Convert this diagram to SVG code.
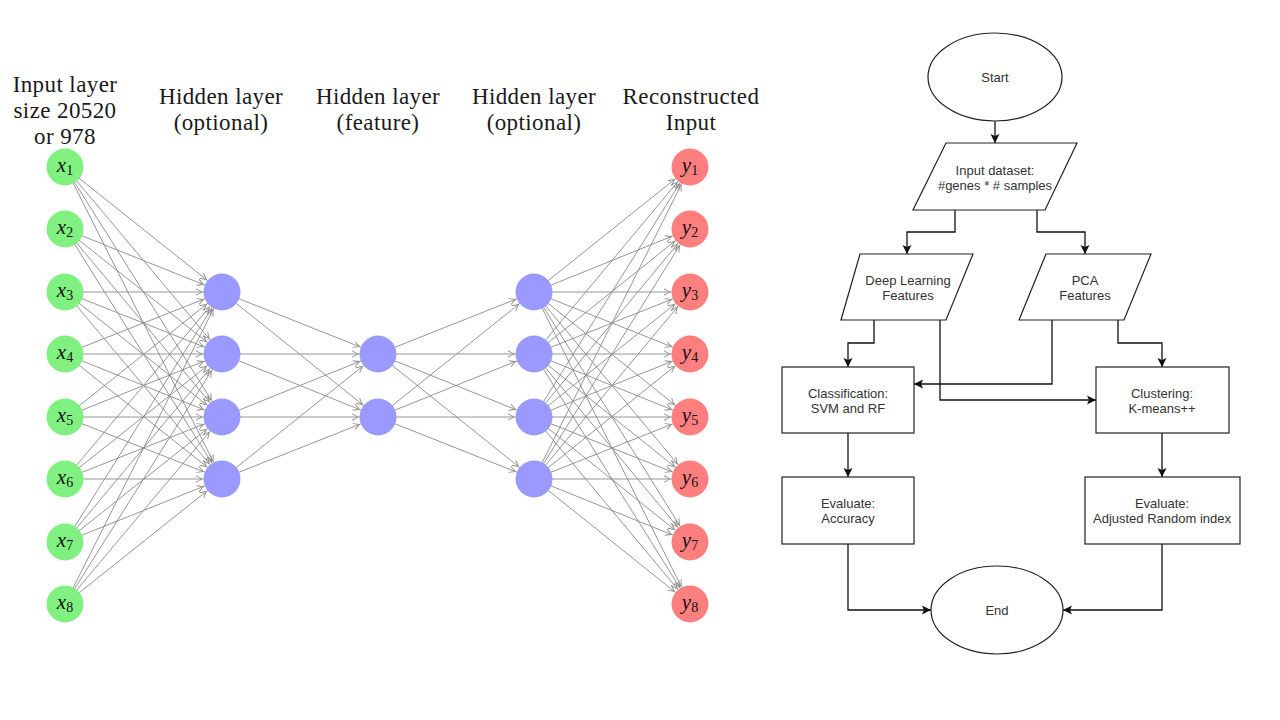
<svg xmlns="http://www.w3.org/2000/svg" width="1280" height="720" viewBox="0 0 1280 720">
<style>
.hd{font-family:"Liberation Serif","DejaVu Serif",serif;font-size:23px;letter-spacing:0.4px;fill:#1a1a1a;text-anchor:middle}
.nl{font-family:"Liberation Serif","DejaVu Serif",serif;font-style:italic;font-size:21px;fill:#111;text-anchor:middle}
.sb{font-size:14px;font-style:normal}
.e{stroke:#8a8a8a;stroke-width:0.9;fill:none;marker-end:url(#oa)}
.in{fill:#80f080}
.hid{fill:#9999ff}
.out{fill:#ff7f7f}
.fs{fill:#fff;stroke:#222;stroke-width:1.2}
.ft{font-family:"Liberation Sans",Arial,sans-serif;font-size:13px;fill:#333;text-anchor:middle}
.fc{stroke:#111;stroke-width:1.3;fill:none;marker-end:url(#fa)}
</style>
<defs>
<marker id="oa" markerUnits="userSpaceOnUse" markerWidth="10" markerHeight="10" refX="20" refY="0" orient="auto" overflow="visible">
<path d="M-6,-3.2 Q-2,-1 0,0 Q-2,1 -6,3.2" fill="none" stroke="#8a8a8a" stroke-width="0.9"/>
</marker>
<marker id="fa" markerUnits="userSpaceOnUse" markerWidth="12" markerHeight="12" refX="0" refY="0" orient="auto" overflow="visible">
<path d="M0,0 L-9,-4.5 L-7,0 L-9,4.5 Z" fill="#111"/>
</marker>
</defs>
<rect width="1280" height="720" fill="#fff"/>

<g id="headers">
<text class="hd" x="65" y="92">Input layer</text>
<text class="hd" x="65" y="118">size 20520</text>
<text class="hd" x="65" y="144">or 978</text>
<text class="hd" x="221" y="104">Hidden layer</text>
<text class="hd" x="221" y="130">(optional)</text>
<text class="hd" x="378" y="104">Hidden layer</text>
<text class="hd" x="378" y="130">(feature)</text>
<text class="hd" x="534" y="104">Hidden layer</text>
<text class="hd" x="534" y="130">(optional)</text>
<text class="hd" x="691" y="104">Reconstructed</text>
<text class="hd" x="691" y="130">Input</text>
</g>

<g id="nn-connectors">
<line class="e" x1="65" y1="167" x2="222" y2="292"/><line class="e" x1="65" y1="167" x2="222" y2="354"/><line class="e" x1="65" y1="167" x2="222" y2="417"/><line class="e" x1="65" y1="167" x2="222" y2="479"/>
<line class="e" x1="65" y1="229" x2="222" y2="292"/><line class="e" x1="65" y1="229" x2="222" y2="354"/><line class="e" x1="65" y1="229" x2="222" y2="417"/><line class="e" x1="65" y1="229" x2="222" y2="479"/>
<line class="e" x1="65" y1="292" x2="222" y2="292"/><line class="e" x1="65" y1="292" x2="222" y2="354"/><line class="e" x1="65" y1="292" x2="222" y2="417"/><line class="e" x1="65" y1="292" x2="222" y2="479"/>
<line class="e" x1="65" y1="354" x2="222" y2="292"/><line class="e" x1="65" y1="354" x2="222" y2="354"/><line class="e" x1="65" y1="354" x2="222" y2="417"/><line class="e" x1="65" y1="354" x2="222" y2="479"/>
<line class="e" x1="65" y1="417" x2="222" y2="292"/><line class="e" x1="65" y1="417" x2="222" y2="354"/><line class="e" x1="65" y1="417" x2="222" y2="417"/><line class="e" x1="65" y1="417" x2="222" y2="479"/>
<line class="e" x1="65" y1="479" x2="222" y2="292"/><line class="e" x1="65" y1="479" x2="222" y2="354"/><line class="e" x1="65" y1="479" x2="222" y2="417"/><line class="e" x1="65" y1="479" x2="222" y2="479"/>
<line class="e" x1="65" y1="542" x2="222" y2="292"/><line class="e" x1="65" y1="542" x2="222" y2="354"/><line class="e" x1="65" y1="542" x2="222" y2="417"/><line class="e" x1="65" y1="542" x2="222" y2="479"/>
<line class="e" x1="65" y1="604" x2="222" y2="292"/><line class="e" x1="65" y1="604" x2="222" y2="354"/><line class="e" x1="65" y1="604" x2="222" y2="417"/><line class="e" x1="65" y1="604" x2="222" y2="479"/>

<line class="e" x1="222" y1="292" x2="378" y2="354"/><line class="e" x1="222" y1="292" x2="378" y2="417"/>
<line class="e" x1="222" y1="354" x2="378" y2="354"/><line class="e" x1="222" y1="354" x2="378" y2="417"/>
<line class="e" x1="222" y1="417" x2="378" y2="354"/><line class="e" x1="222" y1="417" x2="378" y2="417"/>
<line class="e" x1="222" y1="479" x2="378" y2="354"/><line class="e" x1="222" y1="479" x2="378" y2="417"/>

<line class="e" x1="378" y1="354" x2="534" y2="292"/><line class="e" x1="378" y1="354" x2="534" y2="354"/><line class="e" x1="378" y1="354" x2="534" y2="417"/><line class="e" x1="378" y1="354" x2="534" y2="479"/>
<line class="e" x1="378" y1="417" x2="534" y2="292"/><line class="e" x1="378" y1="417" x2="534" y2="354"/><line class="e" x1="378" y1="417" x2="534" y2="417"/><line class="e" x1="378" y1="417" x2="534" y2="479"/>

<line class="e" x1="534" y1="292" x2="690" y2="167"/><line class="e" x1="534" y1="292" x2="690" y2="229"/><line class="e" x1="534" y1="292" x2="690" y2="292"/><line class="e" x1="534" y1="292" x2="690" y2="354"/><line class="e" x1="534" y1="292" x2="690" y2="417"/><line class="e" x1="534" y1="292" x2="690" y2="479"/><line class="e" x1="534" y1="292" x2="690" y2="542"/><line class="e" x1="534" y1="292" x2="690" y2="604"/>
<line class="e" x1="534" y1="354" x2="690" y2="167"/><line class="e" x1="534" y1="354" x2="690" y2="229"/><line class="e" x1="534" y1="354" x2="690" y2="292"/><line class="e" x1="534" y1="354" x2="690" y2="354"/><line class="e" x1="534" y1="354" x2="690" y2="417"/><line class="e" x1="534" y1="354" x2="690" y2="479"/><line class="e" x1="534" y1="354" x2="690" y2="542"/><line class="e" x1="534" y1="354" x2="690" y2="604"/>
<line class="e" x1="534" y1="417" x2="690" y2="167"/><line class="e" x1="534" y1="417" x2="690" y2="229"/><line class="e" x1="534" y1="417" x2="690" y2="292"/><line class="e" x1="534" y1="417" x2="690" y2="354"/><line class="e" x1="534" y1="417" x2="690" y2="417"/><line class="e" x1="534" y1="417" x2="690" y2="479"/><line class="e" x1="534" y1="417" x2="690" y2="542"/><line class="e" x1="534" y1="417" x2="690" y2="604"/>
<line class="e" x1="534" y1="479" x2="690" y2="167"/><line class="e" x1="534" y1="479" x2="690" y2="229"/><line class="e" x1="534" y1="479" x2="690" y2="292"/><line class="e" x1="534" y1="479" x2="690" y2="354"/><line class="e" x1="534" y1="479" x2="690" y2="417"/><line class="e" x1="534" y1="479" x2="690" y2="479"/><line class="e" x1="534" y1="479" x2="690" y2="542"/><line class="e" x1="534" y1="479" x2="690" y2="604"/>
</g>

<g id="x1"><circle class="in" cx="65" cy="167" r="18.5"/><text class="nl" x="65" y="172">x<tspan class="sb" dy="3">1</tspan></text></g>
<g id="x2"><circle class="in" cx="65" cy="229" r="18.5"/><text class="nl" x="65" y="234">x<tspan class="sb" dy="3">2</tspan></text></g>
<g id="x3"><circle class="in" cx="65" cy="292" r="18.5"/><text class="nl" x="65" y="297">x<tspan class="sb" dy="3">3</tspan></text></g>
<g id="x4"><circle class="in" cx="65" cy="354" r="18.5"/><text class="nl" x="65" y="359">x<tspan class="sb" dy="3">4</tspan></text></g>
<g id="x5"><circle class="in" cx="65" cy="417" r="18.5"/><text class="nl" x="65" y="422">x<tspan class="sb" dy="3">5</tspan></text></g>
<g id="x6"><circle class="in" cx="65" cy="479" r="18.5"/><text class="nl" x="65" y="484">x<tspan class="sb" dy="3">6</tspan></text></g>
<g id="x7"><circle class="in" cx="65" cy="542" r="18.5"/><text class="nl" x="65" y="547">x<tspan class="sb" dy="3">7</tspan></text></g>
<g id="x8"><circle class="in" cx="65" cy="604" r="18.5"/><text class="nl" x="65" y="609">x<tspan class="sb" dy="3">8</tspan></text></g>

<g id="h1-1"><circle class="hid" cx="222" cy="292" r="18.5"/></g>
<g id="h1-2"><circle class="hid" cx="222" cy="354" r="18.5"/></g>
<g id="h1-3"><circle class="hid" cx="222" cy="417" r="18.5"/></g>
<g id="h1-4"><circle class="hid" cx="222" cy="479" r="18.5"/></g>
<g id="f-1"><circle class="hid" cx="378" cy="354" r="18.5"/></g>
<g id="f-2"><circle class="hid" cx="378" cy="417" r="18.5"/></g>
<g id="h3-1"><circle class="hid" cx="534" cy="292" r="18.5"/></g>
<g id="h3-2"><circle class="hid" cx="534" cy="354" r="18.5"/></g>
<g id="h3-3"><circle class="hid" cx="534" cy="417" r="18.5"/></g>
<g id="h3-4"><circle class="hid" cx="534" cy="479" r="18.5"/></g>

<g id="y1"><circle class="out" cx="690" cy="167" r="18.5"/><text class="nl" x="690" y="172">y<tspan class="sb" dy="3">1</tspan></text></g>
<g id="y2"><circle class="out" cx="690" cy="229" r="18.5"/><text class="nl" x="690" y="234">y<tspan class="sb" dy="3">2</tspan></text></g>
<g id="y3"><circle class="out" cx="690" cy="292" r="18.5"/><text class="nl" x="690" y="297">y<tspan class="sb" dy="3">3</tspan></text></g>
<g id="y4"><circle class="out" cx="690" cy="354" r="18.5"/><text class="nl" x="690" y="359">y<tspan class="sb" dy="3">4</tspan></text></g>
<g id="y5"><circle class="out" cx="690" cy="417" r="18.5"/><text class="nl" x="690" y="422">y<tspan class="sb" dy="3">5</tspan></text></g>
<g id="y6"><circle class="out" cx="690" cy="479" r="18.5"/><text class="nl" x="690" y="484">y<tspan class="sb" dy="3">6</tspan></text></g>
<g id="y7"><circle class="out" cx="690" cy="542" r="18.5"/><text class="nl" x="690" y="547">y<tspan class="sb" dy="3">7</tspan></text></g>
<g id="y8"><circle class="out" cx="690" cy="604" r="18.5"/><text class="nl" x="690" y="609">y<tspan class="sb" dy="3">8</tspan></text></g>

<g id="flow-connectors">
<path class="fc" d="M995,121 V143"/>
<path class="fc" d="M955,210 V232 H907 V254"/>
<path class="fc" d="M1037,210 V232 H1085 V254"/>
<path class="fc" d="M874,320 V343 H848 V367"/>
<path class="fc" d="M940,320 V400 H1096"/>
<path class="fc" d="M1052,320 V384 H914"/>
<path class="fc" d="M1118,320 V343 H1162 V367"/>
<path class="fc" d="M848,433 V477"/>
<path class="fc" d="M1162,433 V477"/>
<path class="fc" d="M848,544 V610 H931"/>
<path class="fc" d="M1162,544 V610 H1063"/>
</g>

<g id="start"><ellipse class="fs" cx="995" cy="77" rx="67" ry="44"/><text class="ft" x="995" y="82">Start</text></g>
<g id="input-dataset"><polygon class="fs" points="946,143 1077,143 1045,210 913,210"/><text class="ft" x="995" y="175">Input dataset:</text><text class="ft" x="995" y="190">#genes * # samples</text></g>
<g id="dl-features"><polygon class="fs" points="860,254 973,254 946,320 841,320"/><text class="ft" x="908" y="285">Deep Learning</text><text class="ft" x="908" y="300">Features</text></g>
<g id="pca-features"><polygon class="fs" points="1046,254 1151,254 1124,320 1019,320"/><text class="ft" x="1085" y="285">PCA</text><text class="ft" x="1085" y="300">Features</text></g>
<g id="classification"><rect class="fs" x="782" y="367" width="132" height="66"/><text class="ft" x="848" y="398">Classification:</text><text class="ft" x="848" y="413">SVM and RF</text></g>
<g id="clustering"><rect class="fs" x="1096" y="367" width="133" height="66"/><text class="ft" x="1162" y="398">Clustering:</text><text class="ft" x="1162" y="413">K-means++</text></g>
<g id="eval-accuracy"><rect class="fs" x="782" y="477" width="132" height="67"/><text class="ft" x="848" y="508">Evaluate:</text><text class="ft" x="848" y="523">Accuracy</text></g>
<g id="eval-ari"><rect class="fs" x="1085" y="477" width="155" height="67"/><text class="ft" x="1162" y="508">Evaluate:</text><text class="ft" x="1162" y="523">Adjusted Random index</text></g>
<g id="end"><ellipse class="fs" cx="997" cy="610" rx="66" ry="44"/><text class="ft" x="997" y="615">End</text></g>
</svg>
